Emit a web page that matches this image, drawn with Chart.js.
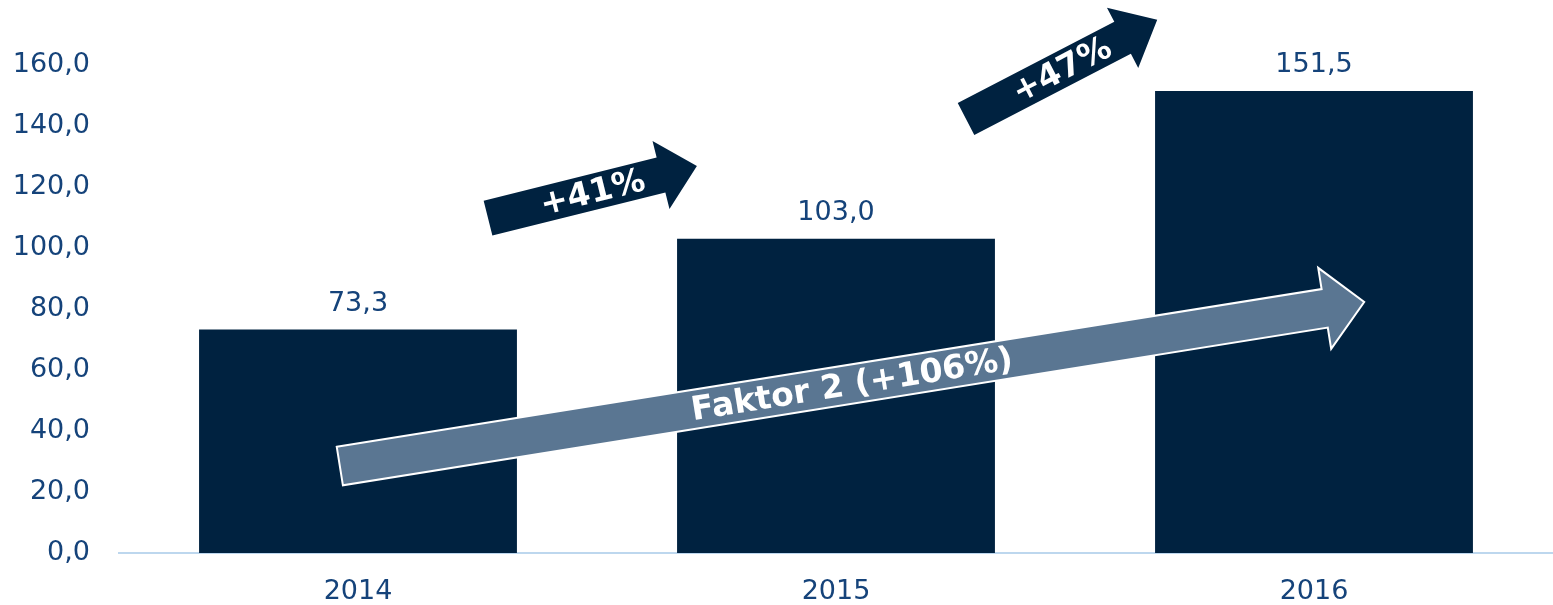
<!DOCTYPE html>
<html>
<head>
<meta charset="utf-8">
<script src="https://cdn.jsdelivr.net/npm/chart.js@4.4.1/dist/chart.umd.min.js"></script>
<style>
  html, body { margin: 0; padding: 0; background: #fff; }
  #wrap { width: 1553px; height: 605px; }
</style>
</head>
<body>
<div id="wrap"><canvas id="chart"></canvas></div>
<script>
const years = ['2014', '2015', '2016'];
const values = [73.3, 103.0, 151.5];
const yTicks = [0, 20, 40, 60, 80, 100, 120, 140, 160];

// growth arrows: from/to in (category index, value), sizes in px
const arrows = [
    { label: 'Faktor 2 (+106%)', from: [-0.038, 28.5], to: [2.105, 82.3], half: 19.5, headLen: 40, headHalf: 41, fill: '#5a7692', stroke: '#ffffff' },
    { label: '+41%', from: [0.272, 109.8], to: [0.709, 126.9], half: 18, headLen: 37, headHalf: 35, fill: '#002240', stroke: null },
    { label: '+47%', from: [1.272, 142.3], to: [1.672, 174.8], half: 18, headLen: 39, headHalf: 34, fill: '#002240', stroke: null }
];

const textColor = '#15437a';
const fmt = v => v.toFixed(1).replace('.', ',');

const valueLabels = {
    id: 'valueLabels',
    afterDatasetsDraw(chart) {
        const ctx = chart.ctx;
        const meta = chart.getDatasetMeta(0);
        ctx.save();
        ctx.font = '27px "DejaVu Sans"';
        ctx.fillStyle = textColor;
        ctx.textAlign = 'center';
        ctx.textBaseline = 'bottom';
        meta.data.forEach((bar, i) => {
            ctx.fillText(fmt(values[i]), bar.x, bar.y - 12);
        });
        ctx.restore();
    }
};

const arrowPlugin = {
    id: 'arrowPlugin',
    afterDraw(chart) {
        const ctx = chart.ctx;
        const xs = chart.scales.x, ys = chart.scales.y;
        arrows.forEach(a => {
            const x0 = xs.getPixelForValue(a.from[0]), y0 = ys.getPixelForValue(a.from[1]);
            const x1 = xs.getPixelForValue(a.to[0]), y1 = ys.getPixelForValue(a.to[1]);
            const len = Math.hypot(x1 - x0, y1 - y0);
            const ang = Math.atan2(y1 - y0, x1 - x0);
            ctx.save();
            ctx.translate(x0, y0);
            ctx.rotate(ang);
            ctx.beginPath();
            ctx.moveTo(0, -a.half);
            ctx.lineTo(len - a.headLen, -a.half);
            ctx.lineTo(len - a.headLen, -a.headHalf);
            ctx.lineTo(len, 0);
            ctx.lineTo(len - a.headLen, a.headHalf);
            ctx.lineTo(len - a.headLen, a.half);
            ctx.lineTo(0, a.half);
            ctx.closePath();
            ctx.fillStyle = a.fill;
            ctx.fill();
            if (a.stroke) {
                ctx.strokeStyle = a.stroke;
                ctx.lineWidth = 2;
                ctx.stroke();
            }
            ctx.fillStyle = '#ffffff';
            ctx.font = 'bold 33px "DejaVu Sans"';
            ctx.textAlign = 'center';
            ctx.textBaseline = 'middle';
            ctx.fillText(a.label, len / 2, 2);
            ctx.restore();
        });
    }
};

new Chart(document.getElementById('chart'), {
    type: 'bar',
    data: {
        labels: years,
        datasets: [{
            data: values,
            backgroundColor: '#002240',
            borderWidth: 0,
            barPercentage: 0.665,
            categoryPercentage: 1.0
        }]
    },
    options: {
        responsive: true,
        maintainAspectRatio: false,
        animation: false,
        layout: { padding: { top: 65, right: 0, left: 0, bottom: 0 } },
        plugins: {
            legend: { display: false },
            tooltip: { enabled: false }
        },
        scales: {
            x: {
                grid: { display: false, drawTicks: false },
                border: { display: true, color: '#bdd7ee', width: 2 },
                ticks: { color: textColor, font: { family: 'DejaVu Sans', size: 27 }, padding: 23 },
                afterFit: s => { s.height = 52; }
            },
            y: {
                min: 0,
                max: 160,
                afterBuildTicks: s => { s.ticks = yTicks.map(v => ({ value: v })); },
                grid: { display: false, drawTicks: false },
                border: { display: false },
                ticks: { color: textColor, font: { family: 'DejaVu Sans', size: 27 }, padding: 29, callback: v => fmt(v) },
                afterFit: s => { s.width = 119; }
            }
        }
    },
    plugins: [valueLabels, arrowPlugin]
});
</script>
</body>
</html>
